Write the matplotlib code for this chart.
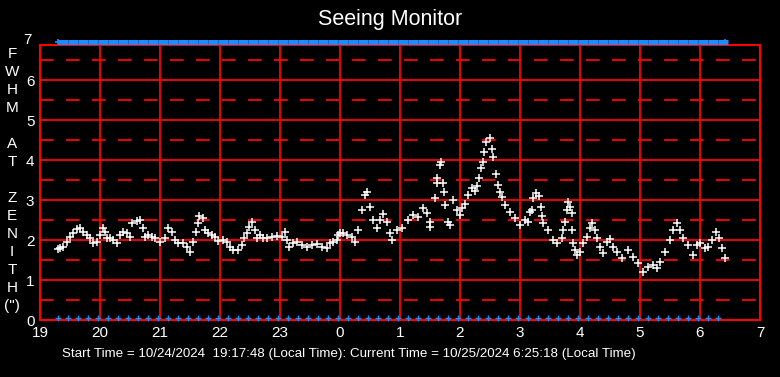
import numpy as np
import matplotlib.pyplot as plt

# minutes after 19:00 local time, and FWHM at zenith (arcsec)
minutes = [18, 20, 23, 27, 30, 33, 37, 40, 43, 47, 50, 53, 57, 60, 63, 65, 67, 70, 73, 77,
           80, 83, 87, 90, 92, 97, 100, 103, 105, 108, 112, 115, 120, 125, 128, 132, 135, 138,
           143, 147, 150, 153, 156, 158, 159, 163, 165, 168, 172, 175, 178, 183, 187, 190, 193,
           198, 202, 204, 207, 209, 212, 215, 217, 220, 223, 227, 232, 237, 242, 245, 247, 249,
           253, 257, 262, 267, 272, 277, 282, 287, 290, 293, 297, 298, 300, 303, 307, 312, 315,
           318, 322, 325, 327, 330, 333, 337, 340, 343, 347, 350, 352, 357, 362, 368, 373, 378,
           383, 387, 390, 390, 395, 397, 397, 400, 401, 403, 404, 405, 408, 410, 413, 417, 420,
           422, 425, 428, 432, 435, 437, 439, 441, 443, 444, 446, 450, 452, 453, 456, 458, 460,
           462, 465, 470, 475, 480, 485, 488, 490, 492, 493, 496, 499, 501, 502, 503, 508, 513,
           517, 522, 523, 525, 527, 528, 530, 532, 532, 533, 535, 537, 540, 543, 547, 550, 552,
           555, 557, 560, 563, 567, 570, 573, 577, 582, 588, 593, 598, 603, 608, 613, 617, 620,
           625, 630, 633, 637, 640, 643, 648, 653, 657, 660, 665, 668, 672, 676, 679, 682, 685]
fwhm = [1.78, 1.80, 1.83, 1.96, 2.08, 2.17, 2.27, 2.30, 2.20, 2.12, 2.04, 1.92, 1.96, 2.12,
        2.29, 2.20, 2.04, 2.04, 2.00, 1.92, 2.12, 2.20, 2.17, 2.08, 2.42, 2.48, 2.50, 2.29,
        2.08, 2.12, 2.08, 2.04, 1.96, 2.04, 2.29, 2.20, 2.00, 1.92, 1.92, 1.83, 1.70, 1.96,
        2.20, 2.42, 2.60, 2.54, 2.25, 2.17, 2.12, 2.08, 1.98, 2.00, 1.96, 1.83, 1.75, 1.75,
        1.88, 2.04, 2.17, 2.33, 2.46, 2.25, 2.04, 2.12, 2.04, 2.04, 2.08, 2.10, 2.08, 2.20,
        2.00, 1.83, 1.92, 1.96, 1.88, 1.83, 1.88, 1.90, 1.83, 1.79, 1.92, 1.96, 2.00, 2.12,
        2.17, 2.17, 2.12, 2.08, 1.96, 2.25, 2.75, 3.12, 3.20, 2.83, 2.50, 2.30, 2.50, 2.65,
        2.46, 2.17, 2.00, 2.25, 2.29, 2.50, 2.62, 2.58, 2.79, 2.67, 2.46, 2.33, 3.04, 3.42,
        3.56, 3.88, 3.95, 3.42, 3.20, 2.87, 2.46, 2.37, 3.00, 2.75, 2.62, 2.80, 2.90, 3.12,
        3.30, 3.22, 3.35, 3.55, 3.80, 3.95, 4.20, 4.45, 4.55, 4.28, 4.08, 3.65, 3.37, 3.20,
        3.08, 2.87, 2.70, 2.55, 2.37, 2.50, 2.46, 2.70, 2.75, 3.04, 3.18, 3.10, 2.83, 2.60,
        2.42, 2.25, 2.00, 1.92, 2.04, 2.25, 2.46, 2.75, 2.96, 2.83, 2.67, 2.25, 1.92, 1.75,
        1.62, 1.70, 1.92, 2.08, 2.29, 2.42, 2.25, 2.04, 1.83, 1.67, 1.96, 2.02, 1.83, 1.70,
        1.55, 1.75, 1.58, 1.42, 1.20, 1.33, 1.37, 1.30, 1.46, 1.70, 2.00, 2.25, 2.42, 2.25,
        2.04, 1.88, 1.62, 1.88, 1.92, 1.79, 1.83, 2.00, 2.20, 2.04, 1.79, 1.55]

start_min = 17.8   # 19:17:48
end_min = 685.3    # 06:25:18
hour_ticks = [19, 20, 21, 22, 23, 24, 25, 26, 27, 28, 29, 30, 31]
hour_labels = ['19', '20', '21', '22', '23', '0', '1', '2', '3', '4', '5', '6', '7']
footer = ("Start Time = 10/24/2024  19:17:48 (Local Time): "
          "Current Time = 10/25/2024 6:25:18 (Local Time)")

plt.rcParams['font.family'] = ['Liberation Sans', 'DejaVu Sans']
red = '#ff0000'
blue = '#1a8cff'

fig = plt.figure(figsize=(7.8, 3.77), dpi=100, facecolor='black')
ax = fig.add_axes([40 / 780, 57 / 377, 720 / 780, 275 / 377])
ax.set_facecolor('black')

ax.set_xlim(19, 31)
ax.set_ylim(0, 6.875)

# grid: solid on integers, dashed on halves
for h in hour_ticks:
    ax.axvline(h, color=red, lw=1.3, zorder=1)
for v in range(1, 7):
    ax.axhline(v, color=red, lw=1.3, zorder=1)
for v in np.arange(0.5, 7, 1.0):
    ax.axhline(v, color=red, lw=1.3, dashes=(7.5, 6.9), zorder=1)
for s in ax.spines.values():
    s.set_color(red)
    s.set_linewidth(1.5)

hours = 19 + np.array(minutes) / 60.0
ax.plot(hours, fwhm, ls='none', marker='+', color='white', ms=5.5, mew=1.1, zorder=3)

# observation flags: a blue bar above the frame, '+' every 10 minutes at the bottom
top_t = 19 + (np.arange(start_min, end_min - 5, 10.0) + 5) / 60.0
ax.plot(top_t, np.full(len(top_t), 6.945), ls='none', marker='_', color=blue,
        ms=6.6, mew=3.6, clip_on=False, zorder=4)
ax.plot([19 + start_min / 60, 19 + end_min / 60], [6.945, 6.945], ls='none', marker='+',
        color=blue, ms=5, mew=1.2, clip_on=False, zorder=4)
bot_t = 19 + np.arange(start_min, end_min, 10.0) / 60.0
ax.plot(bot_t, np.full(len(bot_t), 0.06), ls='none', marker='+', color=blue,
        ms=4.5, mew=1, clip_on=False, zorder=4)

ax.set_xticks(hour_ticks)
ax.set_xticklabels(hour_labels)
ax.set_yticks(range(0, 7))
ax.tick_params(colors='white', labelsize=11, length=0, pad=4)
ax.text(-0.011, 7, '7', transform=ax.get_yaxis_transform(), color='white',
        fontsize=11, ha='right', va='center', clip_on=False)

fig.text(0.5, 0.947, 'Seeing Monitor', color='white', fontsize=15.5, ha='center', va='center')
fig.text(12 / 780, 1 - 180 / 377, 'F\nW\nH\nM\n\nA\nT\n\nZ\nE\nN\nI\nT\nH\n(")',
         color='white', fontsize=11, ha='center', va='center', linespacing=1.36)
fig.text(62 / 780, 1 - 354 / 377, footer, color='white', fontsize=9.6, ha='left', va='center')

fig.savefig('out.png', dpi=100, facecolor='black')
